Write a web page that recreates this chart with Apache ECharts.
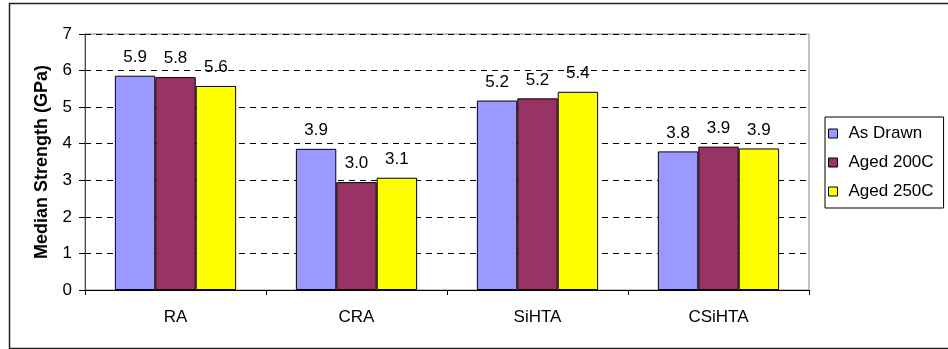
<!DOCTYPE html>
<html>
<head>
<meta charset="UTF-8">
<title>Median Strength</title>
<script src="https://cdn.jsdelivr.net/npm/echarts@6/dist/echarts.min.js"></script>
<style>
    body { margin: 0; padding: 0; background: #fff; }
    #main { width: 948px; height: 349px; }
</style>
</head>
<body>
<div id="main"></div>
<script type="text/javascript">
    // categories and series
    var categories = ['RA', 'CRA', 'SiHTA', 'CSiHTA'];
    var asDrawn = [5.86, 3.86, 5.18, 3.79];
    var aged200 = [5.82, 2.95, 5.24, 3.92];
    var aged250 = [5.58, 3.07, 5.42, 3.87];
    var seriesNames = ['As Drawn', 'Aged 200C', 'Aged 250C'];
    var seriesColors = ['#9999FF', '#993366', '#FFFF00'];
    var yTicks = [0, 1, 2, 3, 4, 5, 6, 7];

    var myChart = echarts.init(document.getElementById('main'));
    var font = 'Arial, "Liberation Sans", sans-serif';

    function bar(name, data, color) {
        return {
            name: name,
            type: 'bar',
            data: data,
            barGap: '0%',
            barCategoryGap: '33%',
            itemStyle: { color: color, borderColor: '#000', borderWidth: 1 },
            label: {
                show: true,
                position: 'top',
                distance: 10,
                fontFamily: font,
                fontSize: 17,
                color: '#000',
                formatter: function (p) { return p.value.toFixed(1); }
            }
        };
    }

    var option = {
        animation: false,
        textStyle: { fontFamily: font },
        graphic: [{
            type: 'rect',
            shape: { x: 9.5, y: 3.5, width: 950, height: 345 },
            style: { fill: 'none', stroke: '#222', lineWidth: 1.5 },
            z: 0
        }],
        grid: {
            left: 85, top: 34, right: 139, bottom: 59,
            show: true, borderColor: '#888', borderWidth: 1
        },
        legend: {
            orient: 'vertical',
            left: 825, top: 117,
            data: seriesNames,
            icon: 'rect',
            itemWidth: 9, itemHeight: 9,
            itemGap: 12,
            padding: [8, 10, 8, 3],
            borderColor: '#000', borderWidth: 1,
            itemStyle: { borderColor: '#000', borderWidth: 1 },
            textStyle: { fontFamily: font, fontSize: 17, color: '#000', padding: [0, 0, 0, 6] }
        },
        xAxis: {
            type: 'category',
            data: categories,
            axisLine: { lineStyle: { color: '#000', width: 1 } },
            axisTick: { show: true, length: 5, lineStyle: { color: '#000' } },
            axisLabel: { fontFamily: font, fontSize: 17, color: '#000', margin: 19 }
        },
        yAxis: {
            type: 'value',
            min: yTicks[0],
            max: yTicks[yTicks.length - 1],
            interval: 1,
            name: 'Median Strength (GPa)',
            nameLocation: 'middle',
            nameGap: 34,
            nameTextStyle: { fontFamily: font, fontSize: 18, fontWeight: 'bold', color: '#000' },
            axisLine: { show: true, lineStyle: { color: '#444', width: 1 } },
            axisTick: { show: true, length: 6, lineStyle: { color: '#000' } },
            axisLabel: { fontFamily: font, fontSize: 17, color: '#000', margin: 13 },
            splitLine: { show: true, lineStyle: { color: '#000', type: [6, 5], width: 1 } }
        },
        series: [
            bar(seriesNames[0], asDrawn, seriesColors[0]),
            bar(seriesNames[1], aged200, seriesColors[1]),
            bar(seriesNames[2], aged250, seriesColors[2])
        ]
    };

    myChart.setOption(option);
</script>
</body>
</html>
